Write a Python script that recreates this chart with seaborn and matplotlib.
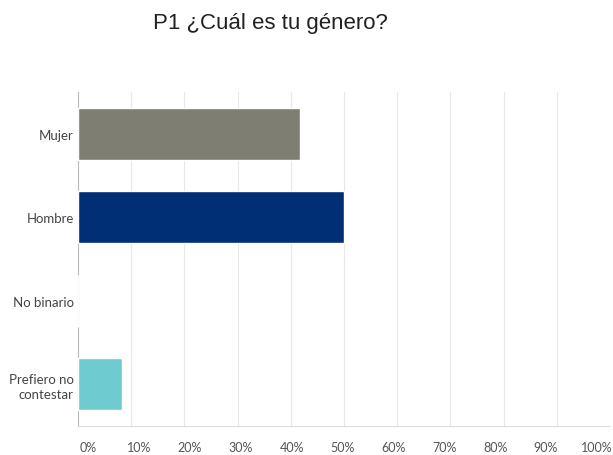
import matplotlib
matplotlib.use('Agg')
import matplotlib.pyplot as plt
import matplotlib.transforms as mtransforms
import seaborn as sns
import pandas as pd

categories = ['Mujer', 'Hombre', 'No binario', 'Prefiero no\ncontestar']
percentages = [41.67, 50.0, 0.0, 8.33]
bar_colors = ['#7f7e72', '#012f75', '#a5d3d6', '#6ecbd0']
x_ticks = [0, 10, 20, 30, 40, 50, 60, 70, 80, 90, 100]
x_tick_labels = ['0%', '10%', '20%', '30%', '40%', '50%', '60%', '70%', '80%', '90%', '100%']
title = 'P1 ¿Cuál es tu género?'

sns.set_style('white')
plt.rcParams['font.family'] = ['Lato', 'DejaVu Sans']

df = pd.DataFrame({'Categoria': categories, 'Porcentaje': percentages})

fig = plt.figure(figsize=(6.13, 4.56), dpi=100)
ax = fig.add_axes([0.1272, 0.0636, 0.8678, 0.7325])

sns.barplot(data=df, x='Porcentaje', y='Categoria', hue='Categoria',
            palette=bar_colors, legend=False, width=0.62, ax=ax,
            saturation=1, zorder=3)

ax.set_xlim(0, 100)
ax.set_ylim(3.5, -0.5)
ax.set_xticks(x_ticks)
ax.set_xticklabels(x_tick_labels)
ax.set_xlabel('')
ax.set_ylabel('')
ax.grid(axis='x', color='#e8e8e8', linewidth=0.8, zorder=0)
ax.tick_params(axis='x', length=0, pad=11, labelsize=9, labelcolor='#555555')
ax.tick_params(axis='y', length=0, pad=3, labelsize=9.5, labelcolor='#444444')
for lbl in ax.get_yticklabels():
    lbl.set_horizontalalignment('right')
    lbl.set_multialignment('right')
    lbl.set_linespacing(1.3)

# the survey tool squeezes the x labels a little relative to the grid
for i, lbl in enumerate(ax.get_xticklabels()):
    dx = (10 - 2.3 * i) / 100
    lbl.set_transform(lbl.get_transform() +
                      mtransforms.ScaledTranslation(dx, 0, fig.dpi_scale_trans))

for side in ['top', 'right']:
    ax.spines[side].set_visible(False)
ax.spines['left'].set_color('#bbbbbb')
ax.spines['bottom'].set_color('#dddddd')

fig.text(0.441, 0.948, title, ha='center', va='center', fontsize=16,
         family=['Liberation Sans', 'DejaVu Sans'], color='#222222')

fig.savefig('out.png', dpi=100)
